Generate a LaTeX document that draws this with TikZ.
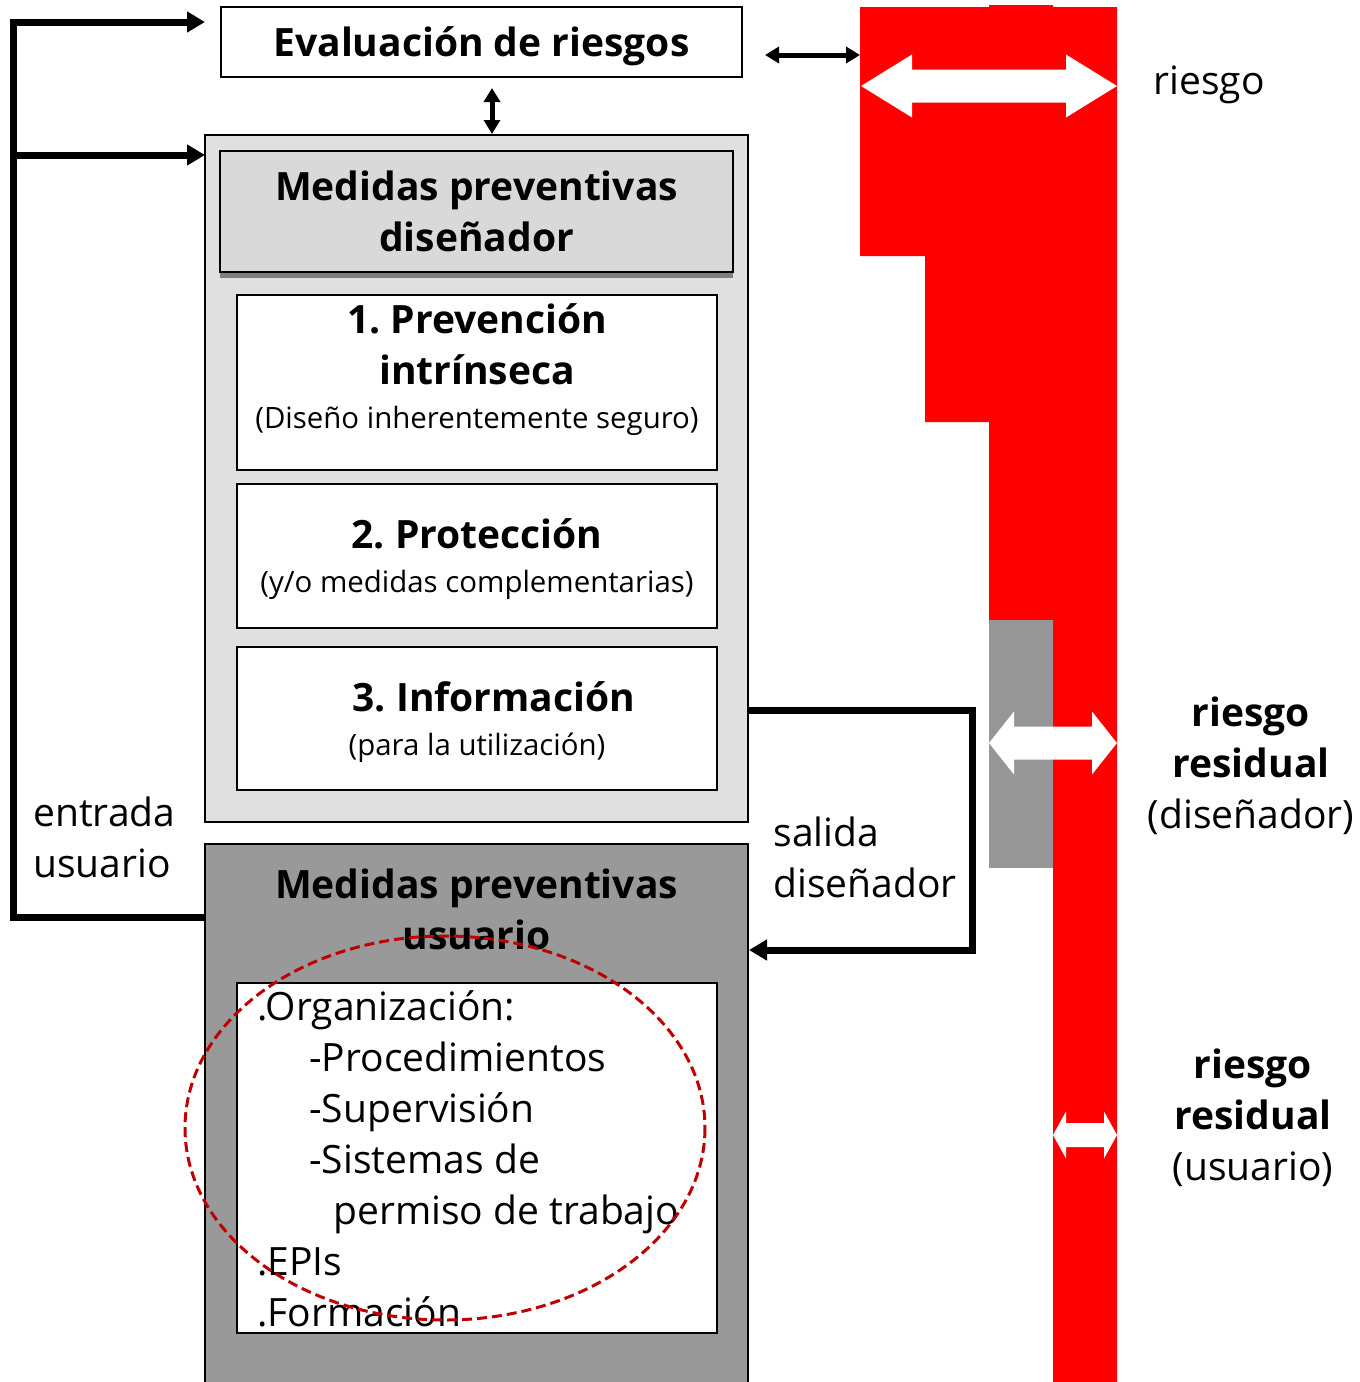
\documentclass[tikz,border=0pt]{standalone}
\usepackage{fontspec}
\setmainfont{Open Sans}
\usetikzlibrary{arrows.meta}

\newlength{\du}
\setlength{\du}{0.5pt}

\definecolor{riskred}{rgb}{1.000000, 0.000000, 0.000000}
\definecolor{ellred}{rgb}{0.752941, 0.000000, 0.000000}
\definecolor{boxgrey}{rgb}{0.878431, 0.878431, 0.878431}
\definecolor{headgrey}{rgb}{0.850980, 0.850980, 0.850980}
\definecolor{usergrey}{rgb}{0.600000, 0.600000, 0.600000}
\definecolor{resgrey}{rgb}{0.588235, 0.588235, 0.588235}
\definecolor{shadowgrey}{rgb}{0.500000, 0.500000, 0.500000}

\newcommand{\bigtxt}{\fontsize{19.5}{25.5}\selectfont}
\newcommand{\subtxt}{\fontsize{14.7}{22}\selectfont}

% white double arrow: x1, x2, y centre, head length, half head, half shaft
\newcommand{\whitearrow}[6]{%
  \fill[white] ({(#1)*\du},{(#3)*\du})--({(#1+#4)*\du},{(#3-#5)*\du})--({(#1+#4)*\du},{(#3-#6)*\du})
    --({(#2-#4)*\du},{(#3-#6)*\du})--({(#2-#4)*\du},{(#3-#5)*\du})--({(#2)*\du},{(#3)*\du})
    --({(#2-#4)*\du},{(#3+#5)*\du})--({(#2-#4)*\du},{(#3+#6)*\du})--({(#1+#4)*\du},{(#3+#6)*\du})
    --({(#1+#4)*\du},{(#3+#5)*\du})--cycle;}

\tikzset{
  plainbox/.style={draw=black, line width=2\du, fill=white, inner sep=0pt, align=center,
    font=\bigtxt, text depth=0pt},
  flow/.style={draw=black, line width=7\du},
  flowtip/.style={-{Triangle[length=9pt,width=10pt]}},
  twoway/.style={draw=black, line width=5\du,
    {Triangle[length=7pt,width=8pt]}-{Triangle[length=7pt,width=8pt]}},
  txt/.style={inner sep=0pt, font=\bigtxt, align=center},
}

\begin{document}
\begin{tikzpicture}
\pgftransformxscale{1.000000}
\pgftransformyscale{-1.000000}
\useasboundingbox (0\du,0\du) rectangle (1360\du,1382\du);

% risk bar
\fill[riskred] (860\du,7\du)--(989\du,7\du)--(989\du,5\du)--(1053\du,5\du)--(1053\du,7\du)
  --(1117\du,7\du)--(1117\du,1392\du)--(1053\du,1392\du)--(1053\du,620\du)--(989\du,620\du)
  --(989\du,422\du)--(925\du,422\du)--(925\du,256\du)--(860\du,256\du)--cycle;
\fill[resgrey] (989\du,620\du) rectangle (1053\du,868\du);
\whitearrow{861}{1117}{86}{51}{31.5}{16.5}
\whitearrow{989}{1117}{743}{25}{31.5}{16.5}
\whitearrow{1053}{1117}{1135}{13}{23.5}{12}

% boxes
\node[plainbox, minimum width=521\du, minimum height=70\du] (eval) at (481.5\du,42\du)
  {\bfseries Evaluación de riesgos};
\node[plainbox, fill=boxgrey, minimum width=543\du, minimum height=687\du] (big) at (476.5\du,478.5\du) {};
\fill[shadowgrey] (220\du,157\du) rectangle (733\du,278\du);
\node[plainbox, fill=headgrey, minimum width=513\du, minimum height=121\du] (head) at (476.5\du,211.5\du)
  {\bfseries Medidas preventivas\\\bfseries diseñador};
\node[plainbox, minimum width=480\du, minimum height=175\du] (prev) at (477\du,382.5\du) {};
\node[txt] (prevtxt) at (477\du,370\du)
  {\bfseries 1.\ Prevención\\\bfseries intrínseca\\[-3.5pt]{\subtxt (Diseño inherentemente seguro)}};
\node[plainbox, minimum width=480\du, minimum height=144\du] (prot) at (477\du,556\du)
  {\bfseries 2.\ Protección\\[-3.5pt]{\subtxt (y/o medidas complementarias)}};
\node[plainbox, minimum width=480\du, minimum height=143\du] (info) at (477\du,718.5\du)
  {\bfseries\hspace*{34\du}3.\ Información\\[-3.5pt]{\subtxt (para la utilización)}};
\node[plainbox, fill=usergrey, minimum width=543\du, minimum height=548\du] (usr) at (476.5\du,1118\du) {};
\node[txt] (usrtxt) at (476.5\du,909\du) {\bfseries Medidas preventivas\\\bfseries usuario};
\node[plainbox, minimum width=480\du, minimum height=350\du] (list) at (477\du,1158\du) {};
\node[txt, anchor=north west, align=left] (listtxt) at (257\du,990\du)
  {.Organización:\\
   \hspace*{52\du}-Procedimientos\\
   \hspace*{52\du}-Supervisión\\
   \hspace*{52\du}-Sistemas de\\
   \hspace*{76\du}permiso de trabajo\\
   .EPIs\\
   .Formación};

% loops
\coordinate (loopcorner) at (13\du,917\du);
\coordinate (inA) at (205\du,22\du);
\coordinate (inB) at (205\du,155\du);
\draw[flow, flowtip] (usr.west |- loopcorner) -- (loopcorner) |- (inA);
\draw[flow, flowtip] (loopcorner |- inB) -- (inB);
\coordinate (outturn) at (972\du,710\du);
\coordinate (backturn) at (972\du,950\du);
\draw[flow, flowtip] (big.east |- outturn) -- (outturn) -- (backturn) -- (usr.east |- backturn);

% two way arrows
\coordinate (vtop) at (492\du,88\du);
\draw[twoway] (vtop) -- (big.north -| vtop);
\coordinate (hleft) at (765\du,55\du);
\coordinate (hright) at (860\du,55\du);
\draw[twoway] (hleft) -- (hright);

% labels
\node[txt, anchor=west, align=left] (entrada) at (33\du,837\du) {entrada\\usuario};
\node[txt, anchor=west, align=left] (salida) at (773\du,857\du) {salida\\diseñador};
\node[txt, anchor=west] (riesgo) at (1153\du,85\du) {riesgo};
\node[txt] (resdis) at (1251\du,766\du) {\bfseries riesgo\\\bfseries residual\\(diseñador)};
\node[txt] (resusr) at (1253\du,1118\du) {\bfseries riesgo\\\bfseries residual\\(usuario)};

% ellipse
\draw[ellred, line width=3\du, dash pattern=on 10\du off 5\du] (445\du,1128\du) ellipse [x radius=260\du, y radius=192\du];
\end{tikzpicture}
\end{document}
